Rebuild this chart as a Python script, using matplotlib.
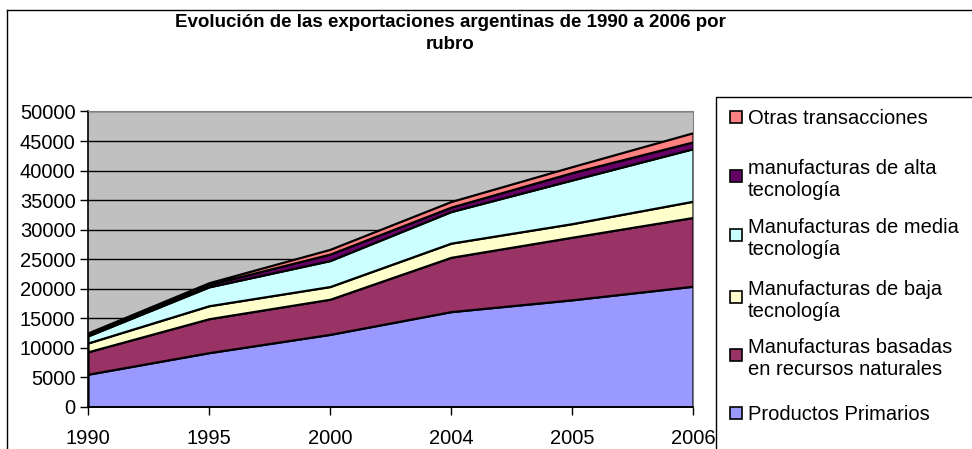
import matplotlib
matplotlib.use("Agg")
import matplotlib.pyplot as plt
from matplotlib.patches import Rectangle
from matplotlib.lines import Line2D

plt.rcParams['font.family'] = ['Liberation Sans', 'DejaVu Sans']

# datos (millones de USD)
anios = ['1990', '1995', '2000', '2004', '2005', '2006']
productos_primarios = [5500, 9150, 12250, 16100, 18100, 20400]
manuf_recursos_naturales = [3800, 5750, 5950, 9200, 10600, 11650]
manuf_baja = [1500, 2200, 2150, 2400, 2300, 2750]
manuf_media = [1200, 3200, 4400, 5350, 7400, 8900]
manuf_alta = [300, 400, 1100, 750, 1250, 1150]
otras = [200, 300, 800, 950, 1000, 1550]

nombres = ['Productos Primarios',
           'Manufacturas basadas\nen recursos naturales',
           'Manufacturas de baja\ntecnología',
           'Manufacturas de media\ntecnología',
           'manufacturas de alta\ntecnología',
           'Otras transacciones']
colores = ['#9999FF', '#993366', '#FFFFCC', '#CCFFFF', '#660066', '#FF8080']

W, H = 972, 449
fig = plt.figure(figsize=(W / 100, H / 100), dpi=100)

def fx(x):
    return x / W

def fy(y):
    return 1 - y / H

# marco del grafico
fig.add_artist(Line2D([fx(7), fx(7)], [fy(10), fy(460)], color='black', lw=1, transform=fig.transFigure))
fig.add_artist(Line2D([fx(7), fx(980)], [fy(10), fy(10)], color='black', lw=1, transform=fig.transFigure))

left, right, top, bottom = 88, 693, 111.5, 406.7
ax = fig.add_axes([fx(left), fy(bottom), (right - left) / W, (bottom - top) / H])
ax.set_facecolor('#C0C0C0')

x = list(range(len(anios)))
ax.stackplot(x, productos_primarios, manuf_recursos_naturales, manuf_baja,
             manuf_media, manuf_alta, otras, colors=colores,
             edgecolor='black', linewidth=1.6)

ax.set_xlim(0, len(anios) - 1)
ax.set_ylim(0, 50000)
ax.set_yticks(range(0, 50001, 5000))
ax.set_xticks(x)
ax.set_xticklabels(anios)
ax.tick_params(axis='both', direction='out', length=6, width=1, labelsize=14.5, colors='black')
ax.tick_params(axis='x', pad=10)
ax.tick_params(axis='y', pad=3)
ax.set_axisbelow(True)
ax.grid(axis='y', color='black', lw=1)
for s in ['top', 'right']:
    ax.spines[s].set_color('#808080')
for s in ['left', 'bottom']:
    ax.spines[s].set_linewidth(1.2)

fig.text(fx(450), fy(14), 'Evolución de las exportaciones argentinas de 1990 a 2006 por\nrubro',
         ha='center', va='top', fontsize=13.5, fontweight='bold', linespacing=1.35)

# leyenda
fig.add_artist(Rectangle((fx(716), fy(470)), fx(300), fy(97) - fy(470), transform=fig.transFigure,
                         facecolor='white', edgecolor='black', lw=1))
primeras_lineas = [413, 355, 297, 235, 176, 116.7]
for nombre, color, yl in zip(nombres, colores, primeras_lineas):
    fig.add_artist(Rectangle((fx(730), fy(yl + 6)), fx(12), fy(yl - 6) - fy(yl + 6),
                             transform=fig.transFigure, facecolor=color, edgecolor='black', lw=1.2))
    fig.text(fx(748), fy(yl), nombre, ha='left', va='center_baseline', fontsize=14.5,
             linespacing=1.2)

fig.savefig('out.png', dpi=100)
